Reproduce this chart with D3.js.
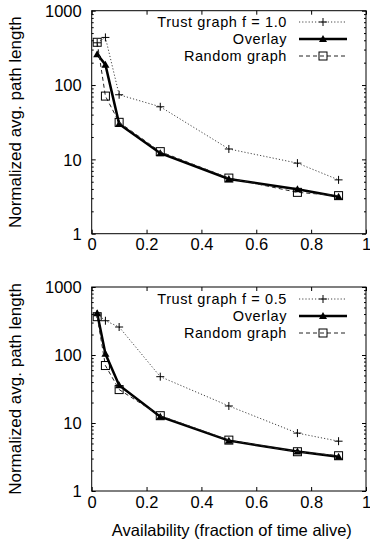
<!DOCTYPE html>
<html>
<head>
<meta charset="utf-8">
<script src="https://cdn.jsdelivr.net/npm/d3@7"></script>
<style>
  body { margin: 0; background: #fff; }
  svg { display: block; font-family: "Liberation Sans", Arial, sans-serif; }
  .tick text { font-size: 16.5px; fill: #000; }
  .tick line { stroke: #000; }
</style>
</head>
<body>
<div id="chart"></div>
<script>
var width = 370, height = 541;

// availability values (x)
var availability = [0.02, 0.05, 0.1, 0.25, 0.5, 0.75, 0.9];

// top panel (f = 1.0)
var trustTop   = [370, 437, 74, 51, 13.8, 8.9, 5.3];
var overlayTop = [259, 188, 30, 12.1, 5.45, 3.96, 3.15];
var randomTop  = [376, 71, 31.5, 12.7, 5.6, 3.6, 3.25];

// bottom panel (f = 0.5)
var trustBot   = [400, 319, 258, 48, 17.8, 7.1, 5.4];
var overlayBot = [410, 104, 36, 12.4, 5.5, 3.8, 3.2];
var randomBot  = [366, 70, 31, 12.8, 5.6, 3.78, 3.3];

var xTicks = [0, 0.2, 0.4, 0.6, 0.8, 1];
var xTickLabels = ["0", "0.2", "0.4", "0.6", "0.8", "1"];
var yTicks = [1, 10, 100, 1000];
var yMinor = [];
[1, 10, 100].forEach(function (d) {
    for (var k = 2; k <= 9; k++) yMinor.push(d * k);
});

var svg = d3.select("#chart")
    .append("svg")
    .attr("width", width)
    .attr("height", height);

var left = 91.7, right = 366;

var panels = [
    { top: 10.7, bottom: 233.7, legendY: [22, 39, 56], trustName: "Trust graph f = 1.0",
      trust: trustTop, overlay: overlayTop, random: randomTop },
    { top: 287, bottom: 491, legendY: [299, 316, 333], trustName: "Trust graph f = 0.5",
      trust: trustBot, overlay: overlayBot, random: randomBot }
];

function drawMarker(g, type, x, y) {
    if (type === "plus") {
        g.append("path")
            .attr("d", "M" + (x - 4) + "," + y + "H" + (x + 4) + "M" + x + "," + (y - 4) + "V" + (y + 4))
            .attr("stroke", "#000").attr("stroke-width", 1).attr("fill", "none");
    } else if (type === "tri") {
        g.append("path")
            .attr("d", "M" + x + "," + (y - 4) + "L" + (x + 4) + "," + (y + 3) + "L" + (x - 4) + "," + (y + 3) + "Z")
            .attr("fill", "#000");
    } else {
        g.append("rect")
            .attr("x", x - 4).attr("y", y - 4).attr("width", 8).attr("height", 8)
            .attr("fill", "none").attr("stroke", "#000").attr("stroke-width", 1);
    }
}

panels.forEach(function (p) {
    var xScale = d3.scaleLinear().domain([0, 1]).range([left, right]);
    var yScale = d3.scaleLog().domain([1, 1000]).range([p.bottom, p.top]);

    var g = svg.append("g");

    // ticks, gnuplot style: inward, mirrored
    g.append("g")
        .attr("transform", "translate(0," + p.bottom + ")")
        .call(d3.axisBottom(xScale).tickValues(xTicks).tickSize(-4).tickPadding(11)
            .tickFormat(function (d, i) { return xTickLabels[i]; }));
    g.append("g")
        .attr("transform", "translate(0," + p.top + ")")
        .call(d3.axisTop(xScale).tickValues(xTicks).tickSize(-4).tickFormat(""));
    g.append("g")
        .attr("transform", "translate(" + left + ",0)")
        .call(d3.axisLeft(yScale).tickValues(yTicks).tickSize(-4).tickPadding(10)
            .tickFormat(d3.format("d")));
    g.append("g")
        .attr("transform", "translate(" + left + ",0)")
        .call(d3.axisLeft(yScale).tickValues(yMinor).tickSize(-2).tickFormat(""));
    g.append("g")
        .attr("transform", "translate(" + right + ",0)")
        .call(d3.axisRight(yScale).tickValues(yTicks).tickSize(-4).tickFormat(""));
    g.append("g")
        .attr("transform", "translate(" + right + ",0)")
        .call(d3.axisRight(yScale).tickValues(yMinor).tickSize(-2).tickFormat(""));
    g.selectAll(".domain").remove();
    g.selectAll(".tick text").attr("dy", "0.35em");

    g.append("rect")
        .attr("x", left).attr("y", p.top)
        .attr("width", right - left).attr("height", p.bottom - p.top)
        .attr("fill", "none").attr("stroke", "#000").attr("stroke-width", 1);

    var line = d3.line()
        .x(function (d, i) { return xScale(availability[i]); })
        .y(function (d) { return yScale(d); });

    var series = [
        { name: p.trustName, values: p.trust, dash: "1.2,2", width: 1, color: "#444", marker: "plus" },
        { name: "Overlay", values: p.overlay, dash: null, width: 2.5, color: "#000", marker: "tri" },
        { name: "Random graph", values: p.random, dash: "4,3", width: 1, color: "#222", marker: "square" }
    ];

    series.forEach(function (s, si) {
        g.append("path")
            .datum(s.values)
            .attr("d", line)
            .attr("fill", "none")
            .attr("stroke", s.color)
            .attr("stroke-width", s.width)
            .attr("stroke-dasharray", s.dash);
        s.values.forEach(function (v, i) {
            drawMarker(g, s.marker, xScale(availability[i]), yScale(v));
        });

        // legend
        var ly = p.legendY[si];
        g.append("text")
            .attr("x", 287).attr("y", ly)
            .attr("dy", "0.35em")
            .attr("text-anchor", "end")
            .style("font-size", "14.5px")
            .style("letter-spacing", "0.6px")
            .text(s.name);
        g.append("line")
            .attr("x1", 299).attr("x2", 347).attr("y1", ly).attr("y2", ly)
            .attr("stroke", s.color)
            .attr("stroke-width", s.width)
            .attr("stroke-dasharray", s.dash);
        drawMarker(g, s.marker, 323, ly);
    });

    // y label
    svg.append("text")
        .attr("transform", "translate(15," + ((p.top + p.bottom) / 2) + ") rotate(-90)")
        .attr("dy", "0.35em")
        .attr("text-anchor", "middle")
        .style("font-size", "17px")
        .text("Normalized avg. path length");
});

svg.append("text")
    .attr("x", (left + right) / 2 + 3)
    .attr("y", 530)
    .attr("dy", "0.35em")
    .attr("text-anchor", "middle")
    .style("font-size", "16.5px")
    .text("Availability (fraction of time alive)");
</script>
</body>
</html>
